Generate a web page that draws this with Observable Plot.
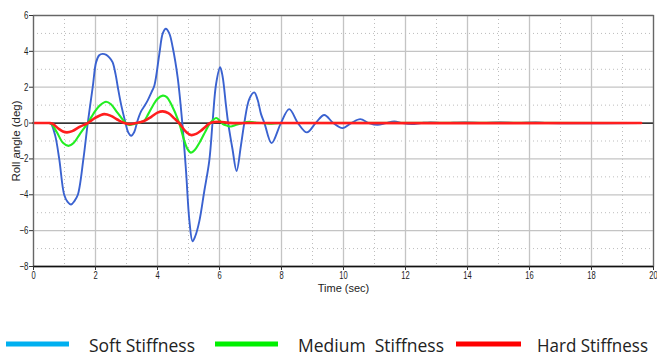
<!DOCTYPE html>
<html>
<head>
<meta charset="utf-8">
<script src="https://cdn.jsdelivr.net/npm/d3@7"></script>
<script src="https://cdn.jsdelivr.net/npm/@observablehq/plot@0.6"></script>
<style>
  html, body { margin: 0; padding: 0; background: #fff; }
  #chart svg { display: block; }
  #legend { display: block; }
</style>
</head>
<body>
<div id="chart"></div>
<svg id="legend" width="657" height="56"></svg>
<script>
// ---- Data ----
const xTicks = [0, 2, 4, 6, 8, 10, 12, 14, 16, 18, 20];
const yTicks = [-8, -6, -4, -2, 0, 2, 4, 6];
const xMinor = [1, 3, 5, 7, 9, 11, 13, 15, 17, 19];
const yMinor = [-7, -5, -3, -1, 1, 3, 5];

const seriesNames = ["Soft Stiffness", "Medium  Stiffness", "Hard Stiffness"];

const softT = [0, 0.5, 0.56, 0.7, 0.83, 0.99, 1.1, 1.21, 1.32, 1.43, 1.61, 1.75, 1.91, 2.02, 2.12, 2.23, 2.35, 2.45, 2.55, 2.65, 2.72, 2.83, 2.97, 3.05, 3.15, 3.25, 3.35, 3.47, 3.58, 3.68, 3.8, 3.9, 4.06, 4.17, 4.27, 4.38, 4.49, 4.65, 4.8, 4.92, 5.03, 5.13, 5.22, 5.35, 5.51, 5.67, 5.78, 5.89, 6.02, 6.1, 6.21, 6.28, 6.42, 6.55, 6.69, 6.8, 6.96, 7.12, 7.23, 7.34, 7.45, 7.68, 7.98, 8.25, 8.53, 8.82, 9.1, 9.38, 9.67, 9.97, 10.25, 10.54, 10.82, 11.1, 11.37, 11.64, 11.9, 12.2, 12.5, 12.8, 13.2, 13.9, 14.5, 15.05, 15.6, 16.2, 16.6, 19.6];
const softV = [0, 0, -0.02, -0.7, -2, -4, -4.4, -4.54, -4.35, -4, -2, 0, 2, 3.4, 3.78, 3.86, 3.8, 3.65, 3.4, 2.7, 2, 1, 0, -0.5, -0.71, -0.5, 0.1, 0.65, 0.95, 1.25, 1.7, 2.1, 3.86, 5.0, 5.26, 5.0, 4.23, 2.55, 0, -2.67, -5.47, -6.59, -6.3, -5.47, -3.79, -2.11, 0.13, 2.18, 3.11, 2.6, 0.97, 0, -1.46, -2.67, -1.27, 0, 1.34, 1.71, 1.3, 0.5, 0, -1.12, 0, 0.78, 0, -0.52, 0, 0.45, 0, -0.28, 0, 0.22, 0, -0.1, 0, 0.09, 0, -0.05, 0, 0.04, 0, 0.04, 0, 0.04, 0, 0.04, 0, 0];

const mediumT = [0, 0.5, 0.56, 0.75, 0.95, 1.13, 1.3, 1.5, 1.75, 2.0, 2.15, 2.34, 2.5, 2.7, 2.98, 3.1, 3.25, 3.45, 3.57, 3.7, 3.85, 4.0, 4.17, 4.3, 4.44, 4.7, 4.85, 4.97, 5.08, 5.2, 5.4, 5.55, 5.7, 5.89, 6.0, 6.1, 6.25, 6.37, 6.5, 6.7, 6.96, 7.2, 7.6, 8.0, 19.6];
const mediumV = [0, 0, -0.02, -0.5, -1.1, -1.27, -1.1, -0.6, 0, 0.7, 1.0, 1.19, 1.05, 0.6, 0, -0.1, -0.05, 0.05, 0.13, 0.5, 0.97, 1.35, 1.53, 1.45, 1.06, 0, -0.9, -1.45, -1.65, -1.5, -0.95, -0.45, 0, 0.28, 0.15, -0.05, -0.15, -0.19, -0.12, -0.02, 0.07, 0.02, -0.03, 0, 0];

const hardT = [0, 0.5, 0.6, 0.8, 0.95, 1.08, 1.25, 1.5, 1.75, 2.0, 2.28, 2.5, 2.7, 2.93, 3.1, 3.3, 3.55, 3.8, 4.0, 4.17, 4.35, 4.55, 4.7, 4.9, 5.08, 5.25, 5.4, 5.55, 5.7, 6.0, 6.3, 7.0, 19.6];
const hardV = [0, 0, -0.02, -0.3, -0.47, -0.52, -0.45, -0.2, 0, 0.3, 0.5, 0.4, 0.2, 0, -0.06, 0, 0.1, 0.35, 0.58, 0.65, 0.55, 0.25, 0, -0.45, -0.67, -0.6, -0.43, -0.2, 0, 0.07, 0.01, 0, 0];

// ---- Build rows ----
const soft = softT.map((t, i) => ({t, v: softV[i]}));
const medium = mediumT.map((t, i) => ({t, v: mediumV[i]}));
const hard = hardT.map((t, i) => ({t, v: hardV[i]}));

const chart = Plot.plot({
  width: 657,
  height: 300,
  marginTop: 15,
  marginLeft: 33,
  marginRight: 4,
  marginBottom: 34,
  style: {fontFamily: "'Liberation Sans', Arial, sans-serif", fontSize: "11px", color: "#222", background: "#fff"},
  x: {domain: [0, 20]},
  y: {domain: [-8, 6]},
  marks: [
    Plot.gridX(xMinor, {stroke: "#bdbdbd", strokeOpacity: 1, strokeDasharray: "1,3"}),
    Plot.gridY(yMinor, {stroke: "#bdbdbd", strokeOpacity: 1, strokeDasharray: "1,3"}),
    Plot.gridX(xTicks, {stroke: "#c4c4c4", strokeOpacity: 1, strokeWidth: 1.3}),
    Plot.gridY(yTicks, {stroke: "#c4c4c4", strokeOpacity: 1, strokeWidth: 1.3}),
    Plot.ruleY([0], {stroke: "#000", strokeWidth: 1.2}),
    Plot.line(soft, {x: "t", y: "v", curve: "catmull-rom", stroke: "#3a62d0", strokeWidth: 1.9}),
    Plot.line(medium, {x: "t", y: "v", curve: "catmull-rom", stroke: "#22ee22", strokeWidth: 2.1}),
    Plot.line(hard, {x: "t", y: "v", curve: "catmull-rom", stroke: "#ff1e1e", strokeWidth: 2.6}),
    Plot.frame({stroke: "#666", strokeWidth: 1.3}),
    Plot.ruleY([-8], {stroke: "#111", strokeWidth: 1.5}),
    Plot.axisX(xTicks, {tickSize: 4, tickPadding: 1, label: null, fontSize: 10.5, stroke: "#333"}),
    Plot.axisY(yTicks, {tickSize: 4, tickPadding: 1, label: null, fontSize: 11, stroke: "#333"}),
    Plot.text(["Time (sec)"], {frameAnchor: "bottom", dy: 25.5, fontSize: 11, fill: "#222"}),
    Plot.text(["Roll angle (deg)"], {frameAnchor: "left", textAnchor: "middle", dx: -17, rotate: -90, fontSize: 11.5, fill: "#222"})
  ]
});
document.getElementById("chart").appendChild(chart);

// Tick labels in the reference use a narrow face: condense them horizontally.
d3.select(chart).selectAll("g[aria-label='x-axis tick label'] text, g[aria-label='y-axis tick label'] text")
  .each(function () {
    const tr = this.getAttribute("transform") || "";
    this.setAttribute("transform", tr + " scale(0.72,1)");
  });

// ---- Legend ----
const legendColors = ["#00b0f0", "#00f000", "#ff0000"];
const legendLayout = [
  {x1: 6, x2: 69, tx: 89, w: 106},
  {x1: 215, x2: 278, tx: 298, w: 146},
  {x1: 456, x2: 521, tx: 537, w: 111}
];
const leg = d3.select("#legend");
seriesNames.forEach((name, i) => {
  const L = legendLayout[i];
  leg.append("line")
    .attr("x1", L.x1).attr("x2", L.x2).attr("y1", 44).attr("y2", 44)
    .attr("stroke", legendColors[i]).attr("stroke-width", 5);
  leg.append("text")
    .attr("x", L.tx).attr("y", 52)
    .attr("textLength", L.w).attr("lengthAdjust", "spacingAndGlyphs")
    .attr("font-family", "'Open Sans', 'Noto Sans', sans-serif")
    .attr("font-size", 17.5)
    .attr("fill", "#222")
    .style("white-space", "pre")
    .text(name);
});
</script>
</body>
</html>
